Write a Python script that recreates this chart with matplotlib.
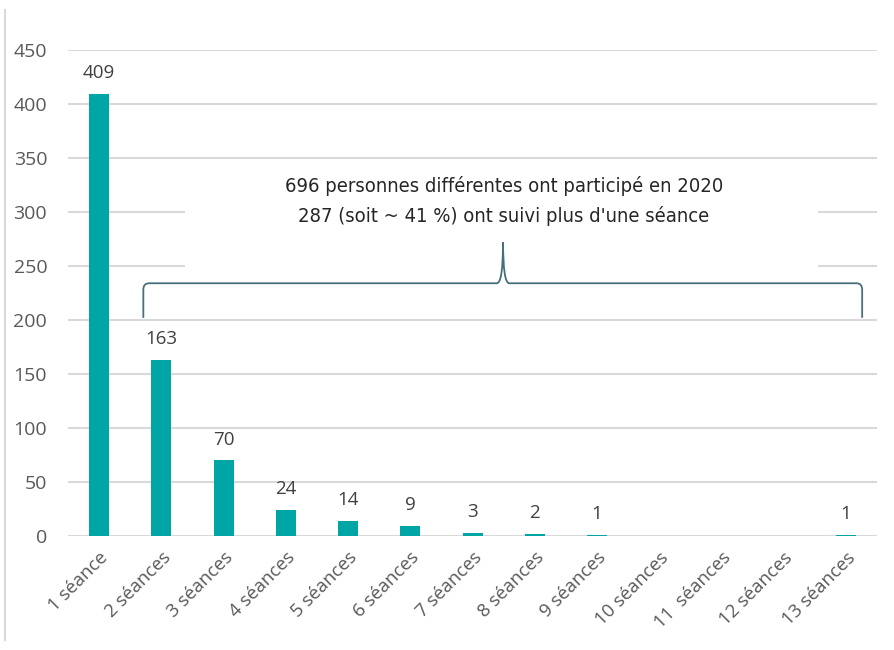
import numpy as np
import matplotlib.pyplot as plt
from matplotlib.path import Path
from matplotlib.patches import PathPatch, Rectangle
from matplotlib.lines import Line2D

# Nombre de séances suivies par personne
categories = ["1 séance", "2 séances", "3 séances", "4 séances", "5 séances",
              "6 séances", "7 séances", "8 séances", "9 séances", "10 séances",
              "11  séances", "12 séances", "13 séances"]
values = [409, 163, 70, 24, 14, 9, 3, 2, 1, 0, 0, 0, 1]
yticks = [0, 50, 100, 150, 200, 250, 300, 350, 400, 450]
note_lines = ["696 personnes différentes ont participé en 2020",
              "287 (soit ~ 41 %) ont suivi plus d'une séance"]

BAR = "#00A5A5"
GRID = "#D9D9D9"
TXT = "#595959"
BRACE = "#46707B"

plt.rcParams['font.family'] = ['Open Sans', 'DejaVu Sans']


def main():
    fig = plt.figure(figsize=(8.95, 6.5), dpi=100)
    ax = fig.add_axes([0.076, 0.1754, 0.904, 0.7477])

    x = np.arange(len(categories))
    ax.bar(x, values, width=0.32, color=BAR, zorder=3)

    #data labels only for non-zero counts
    for xi, v in zip(x, values):
        if v > 0:
            ax.text(xi, v + 11, str(v), ha="center", va="bottom",
                    fontsize=13.5, color="#404040", zorder=5)

    ax.set_xlim(-0.5, len(categories) - 0.5)
    ax.set_ylim(0, 450)
    ax.set_yticks(yticks)
    ax.set_xticks(x)
    ax.set_xticklabels(categories, rotation=45, ha="right",
                       rotation_mode="anchor", fontsize=13.3, color=TXT)
    ax.tick_params(axis="y", labelsize=14, labelcolor=TXT, length=0, pad=15)
    ax.tick_params(axis="x", length=0, pad=9)
    ax.yaxis.grid(True, color=GRID, linewidth=1.5, zorder=0)
    ax.set_axisbelow(True)
    for s in ax.spines.values():
        s.set_visible(False)

    #white box behind the note (hides gridlines)
    ax.add_patch(Rectangle((1.38, 242), 10.17, 92, facecolor="white",
                           edgecolor="none", zorder=2))
    for yy, line in zip([324, 296], note_lines):
        ax.text(6.5, yy, line, ha="center", va="center", fontsize=14.5,
                family="DejaVu Sans", stretch="condensed", color="#262626",
                zorder=6)

    #curly brace
    x0, x1, xm = 0.71, 12.26, 6.49
    yb, yh, yt = 202, 234, 272
    r = 0.09
    verts = [(x0, yb), (x0, yh - 6), (x0, yh), (x0 + r, yh),
             (xm - 0.1, yh), (xm, yh), (xm, yt),
             (xm, yh), (xm + 0.1, yh),
             (x1 - r, yh), (x1, yh), (x1, yh - 6), (x1, yb)]
    codes = [Path.MOVETO, Path.LINETO, Path.CURVE3, Path.CURVE3,
             Path.LINETO, Path.CURVE3, Path.CURVE3,
             Path.CURVE3, Path.CURVE3,
             Path.LINETO, Path.CURVE3, Path.CURVE3, Path.LINETO]
    ax.add_patch(PathPatch(Path(verts, codes), facecolor="none",
                           edgecolor=BRACE, linewidth=1.3, zorder=4))

    #chart border on the left
    fig.add_artist(Line2D([0.006, 0.006], [0.015, 0.985], color=GRID,
                          linewidth=1.5))

    plt.savefig("out.png", dpi=100)


if __name__ == "__main__":
    main()
